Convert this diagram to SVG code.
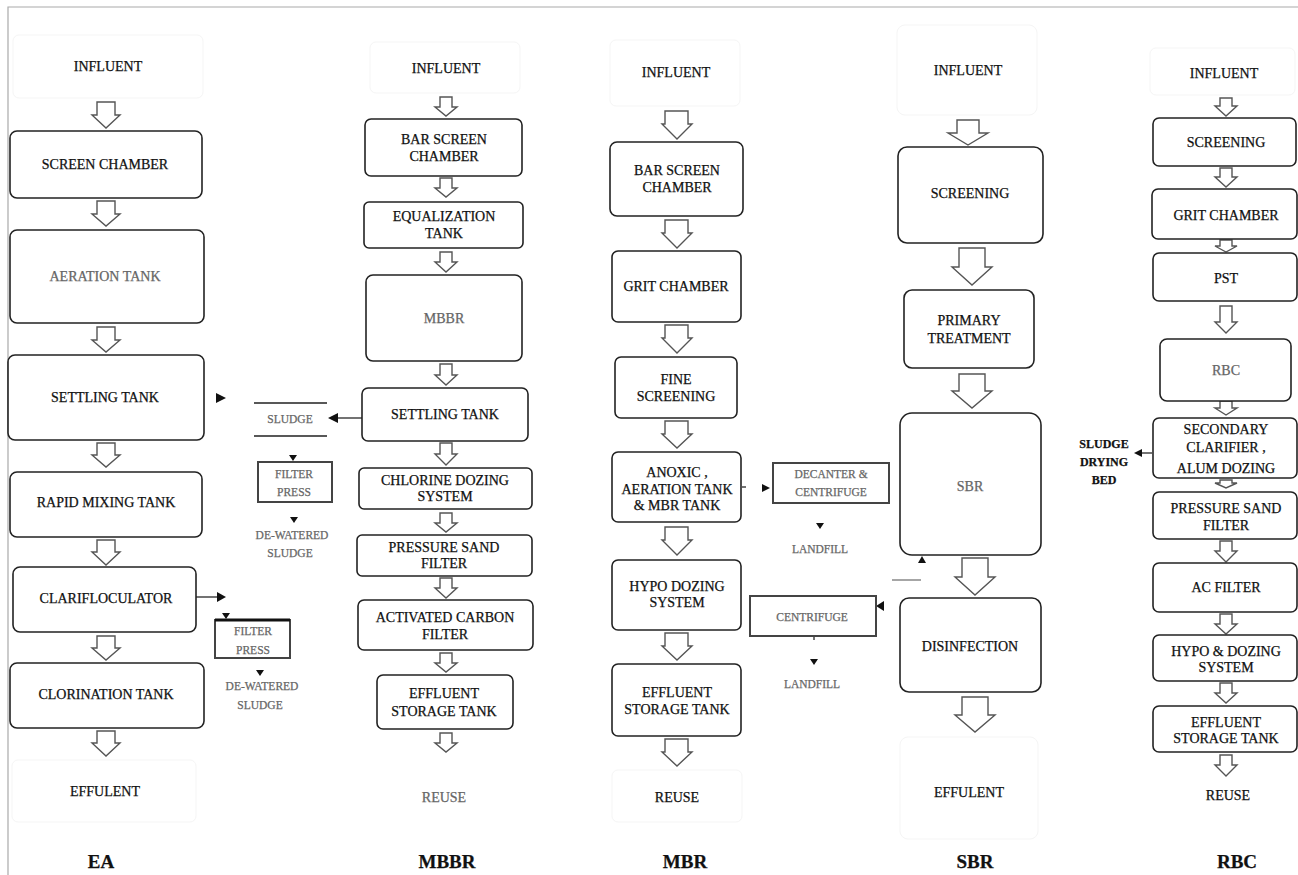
<svg xmlns="http://www.w3.org/2000/svg" width="1298" height="875" viewBox="0 0 1298 875">
<style>
text{font-family:"Liberation Serif","Times New Roman",serif;font-size:14px;fill:#111;stroke:#111;stroke-width:0.25;text-anchor:middle}
.g{fill:#666;stroke:#666}
.lb{font-weight:bold;font-size:19px}
.sb{font-weight:bold;font-size:12px}
.sm{font-size:11.5px}
.box{fill:#fff;stroke:#222;stroke-width:1.6}
.fbox{fill:none;stroke:#f5f5f5;stroke-width:1}
.sq{fill:#fff;stroke:#444;stroke-width:2}
.ar{fill:#fff;stroke:#555;stroke-width:1.4;stroke-linejoin:miter}
.ln{stroke:#444;stroke-width:1.5;fill:none}
.hd{fill:#111}
</style>
<rect width="1298" height="875" fill="#fff"/>
<path d="M8 875 V7 H1298" fill="none" stroke="#aaa" stroke-width="1.2"/>

<g id="connectors">
<path class="ar" d="M97 102H115V115H120L106 128L92 115H97Z"/>
<path class="ar" d="M97 201H115V214H120L106 226L92 214H97Z"/>
<path class="ar" d="M97 327H115V340H120L106 352L92 340H97Z"/>
<path class="ar" d="M97 443H115V455H120L106 467L92 455H97Z"/>
<path class="ar" d="M97 540H115V552H120L106 565L92 552H97Z"/>
<path class="ar" d="M97 636H115V648H120L106 660L92 648H97Z"/>
<path class="ar" d="M97 731H115V743H120L106 756L92 743H97Z"/>
<path class="ar" d="M440 97H452V107H457L446 116L435 107H440Z"/>
<path class="ar" d="M440 178H452V188H457L446 197L435 188H440Z"/>
<path class="ar" d="M440 252H452V262H457L446 272L435 262H440Z"/>
<path class="ar" d="M440 364H452V375H457L446 385L435 375H440Z"/>
<path class="ar" d="M440 443H452V454H457L446 465L435 454H440Z"/>
<path class="ar" d="M440 513H452V523H457L446 532L435 523H440Z"/>
<path class="ar" d="M440 578H452V588H457L446 598L435 588H440Z"/>
<path class="ar" d="M440 653H452V663H457L446 672L435 663H440Z"/>
<path class="ar" d="M440 733H452V743H457L446 752L435 743H440Z"/>
<path class="ar" d="M665 111H688V124H692L677 139L662 124H665Z"/>
<path class="ar" d="M665 220H688V233H692L677 248L662 233H665Z"/>
<path class="ar" d="M665 325H688V338H692L677 353L662 338H665Z"/>
<path class="ar" d="M665 421H688V434H692L677 448L662 434H665Z"/>
<path class="ar" d="M665 527H688V540H692L677 555L662 540H665Z"/>
<path class="ar" d="M665 633H688V646H692L677 660L662 646H665Z"/>
<path class="ar" d="M665 739H688V752H692L677 766L662 752H665Z"/>
<path class="ar" d="M957 120H979V133H988L968 145L948 133H957Z"/>
<path class="ar" d="M959 248H985V267H992L972 285L952 267H959Z"/>
<path class="ar" d="M959 374H985V391H992L972 408L952 391H959Z"/>
<path class="ar" d="M962 558H988V577H995L975 595L955 577H962Z"/>
<path class="ar" d="M962 697H988V715H995L975 732L955 715H962Z"/>
<path class="ar" d="M1220 98H1232V106H1237L1226 116L1215 106H1220Z"/>
<path class="ar" d="M1220 168H1232V177H1237L1226 187L1215 177H1220Z"/>
<path class="ar" d="M1220 240H1232V246H1237L1226 252L1215 246H1220Z"/>
<path class="ar" d="M1220 306H1232V322H1237L1226 333L1215 322H1220Z"/>
<path class="ar" d="M1220 401H1232V408H1237L1226 415L1215 408H1220Z"/>
<path class="ar" d="M1220 480H1232V483H1237L1226 488L1215 483H1220Z"/>
<path class="ar" d="M1220 541H1232V551H1237L1226 562L1215 551H1220Z"/>
<path class="ar" d="M1220 614H1232V624H1237L1226 634L1215 624H1220Z"/>
<path class="ar" d="M1220 683H1232V693H1237L1226 703L1215 693H1220Z"/>
<path class="ar" d="M1220 755H1232V765H1237L1226 776L1215 765H1220Z"/>

<path class="hd" d="M216 393L226 398L216 403Z"/>
<path class="ln" d="M362 418H336"/>
<path class="hd" d="M328 418L338 413L338 423Z"/>
<path class="hd" d="M289 455L297 455L293 461Z"/>
<path class="hd" d="M290 517L298 517L294 523Z"/>
<path class="ln" d="M196 597H218"/>
<path class="hd" d="M217 592L226 597L217 602Z"/>
<path class="hd" d="M222 613L230 613L226 619Z"/>
<path class="hd" d="M256 670L264 670L260 676Z"/>
<path class="ln" d="M742 487H746"/>
<path class="hd" d="M762 484L770 488L762 492Z"/>
<path class="hd" d="M816 523L824 523L820 529Z"/>
<path class="hd" d="M918 563L926 563L922 556Z"/>
<path d="M892 580H921" stroke="#888" stroke-width="1.5"/>
<path class="hd" d="M884 601L876 606L884 611Z"/>
<path class="ln" d="M814 636V640"/>
<path class="hd" d="M810 659L818 659L814 665Z"/>
<path class="ln" d="M1152 453H1140"/>
<path class="hd" d="M1134 453L1142 449L1142 457Z"/>
</g>

<g id="ea-influent"><rect class="fbox" x="13" y="35" width="190" height="63" rx="6"/><text x="108" y="71">INFLUENT</text></g>
<g id="ea-screen"><rect class="box" x="10" y="131" width="192" height="67" rx="7"/><text x="105" y="169">SCREEN CHAMBER</text></g>
<g id="ea-aeration"><rect class="box" x="10" y="230" width="194" height="93" rx="7"/><text class="g" x="105" y="281">AERATION TANK</text></g>
<g id="ea-settling"><rect class="box" x="8" y="355" width="196" height="85" rx="7"/><text x="105" y="402">SETTLING TANK</text></g>
<g id="ea-rapid"><rect class="box" x="10" y="472" width="192" height="65" rx="7"/><text x="106" y="507">RAPID MIXING TANK</text></g>
<g id="ea-clari"><rect class="box" x="13" y="567" width="183" height="65" rx="7"/><text x="106" y="603">CLARIFLOCULATOR</text></g>
<g id="ea-chlor"><rect class="box" x="10" y="663" width="194" height="65" rx="7"/><text x="106" y="699">CLORINATION TANK</text></g>
<g id="ea-effluent"><rect class="fbox" x="12" y="760" width="184" height="62" rx="6"/><text x="105" y="796">EFFULENT</text></g>
<g id="ea-label"><text class="lb" x="101" y="868">EA</text></g>
<g id="ea-sludge"><path d="M254 403H327M254 436H327" stroke="#222" stroke-width="1.6"/><text class="g sm" x="290" y="423">SLUDGE</text></g>
<g id="ea-fp1"><rect class="sq" x="258" y="462" width="74" height="40"/><text class="g sm" x="294" y="478">FILTER</text><text class="g sm" x="294" y="496">PRESS</text></g>
<g id="ea-dw1"><text class="g sm" x="292" y="539">DE-WATERED</text><text class="g sm" x="290" y="557">SLUDGE</text></g>
<g id="ea-fp2"><rect class="sq" x="215" y="620" width="75" height="38"/><path d="M215 620H290" stroke="#111" stroke-width="3"/><text class="g sm" x="253" y="635">FILTER</text><text class="g sm" x="253" y="654">PRESS</text></g>
<g id="ea-dw2"><text class="g sm" x="262" y="690">DE-WATERED</text><text class="g sm" x="260" y="709">SLUDGE</text></g>

<g id="mbbr-influent"><rect class="fbox" x="370" y="42" width="150" height="51" rx="6"/><text x="446" y="73">INFLUENT</text></g>
<g id="mbbr-bar"><rect class="box" x="365" y="119" width="157" height="57" rx="6"/><text x="444" y="144">BAR SCREEN</text><text x="444" y="161">CHAMBER</text></g>
<g id="mbbr-eq"><rect class="box" x="364" y="202" width="159" height="46" rx="5"/><text x="444" y="221">EQUALIZATION</text><text x="444" y="238">TANK</text></g>
<g id="mbbr-mbbr"><rect class="box" x="366" y="275" width="156" height="86" rx="7"/><text class="g" x="444" y="323">MBBR</text></g>
<g id="mbbr-settling"><rect class="box" x="362" y="388" width="166" height="53" rx="6"/><text x="445" y="419">SETTLING TANK</text></g>
<g id="mbbr-chlor"><rect class="box" x="359" y="468" width="173" height="41" rx="5"/><text x="445" y="485">CHLORINE DOZING</text><text x="445" y="501">SYSTEM</text></g>
<g id="mbbr-psf"><rect class="box" x="357" y="535" width="175" height="41" rx="5"/><text x="444" y="552">PRESSURE SAND</text><text x="444" y="568">FILTER</text></g>
<g id="mbbr-acf"><rect class="box" x="358" y="600" width="175" height="50" rx="6"/><text x="445" y="622">ACTIVATED CARBON</text><text x="445" y="639">FILTER</text></g>
<g id="mbbr-est"><rect class="box" x="377" y="675" width="136" height="54" rx="6"/><text x="444" y="698">EFFLUENT</text><text x="444" y="716">STORAGE TANK</text></g>
<g id="mbbr-reuse"><text class="g" x="444" y="802">REUSE</text></g>
<g id="mbbr-label"><text class="lb" x="447" y="868">MBBR</text></g>

<g id="mbr-influent"><rect class="fbox" x="610" y="40" width="130" height="66" rx="6"/><text x="676" y="77">INFLUENT</text></g>
<g id="mbr-bar"><rect class="box" x="610" y="142" width="133" height="74" rx="7"/><text x="677" y="175">BAR SCREEN</text><text x="677" y="192">CHAMBER</text></g>
<g id="mbr-grit"><rect class="box" x="612" y="251" width="129" height="71" rx="6"/><text x="676" y="291">GRIT CHAMBER</text></g>
<g id="mbr-fine"><rect class="box" x="615" y="357" width="122" height="61" rx="6"/><text x="676" y="384">FINE</text><text x="676" y="401">SCREENING</text></g>
<g id="mbr-anoxic"><rect class="box" x="612" y="452" width="129" height="70" rx="6"/><text x="677" y="477">ANOXIC ,</text><text x="677" y="494">AERATION TANK</text><text x="677" y="510">&amp; MBR TANK</text></g>
<g id="mbr-hypo"><rect class="box" x="612" y="560" width="129" height="70" rx="6"/><text x="677" y="591">HYPO DOZING</text><text x="677" y="607">SYSTEM</text></g>
<g id="mbr-est"><rect class="box" x="612" y="664" width="129" height="72" rx="6"/><text x="677" y="697">EFFLUENT</text><text x="677" y="714">STORAGE TANK</text></g>
<g id="mbr-reuse"><rect class="fbox" x="612" y="770" width="130" height="52" rx="6"/><text x="677" y="802">REUSE</text></g>
<g id="mbr-label"><text class="lb" x="685" y="868">MBR</text></g>
<g id="mbr-decanter"><rect class="sq" x="773" y="463" width="116" height="40"/><text class="g sm" x="831" y="478">DECANTER &amp;</text><text class="g sm" x="831" y="496">CENTRIFUGE</text></g>
<g id="mbr-landfill1"><text class="g sm" x="820" y="553">LANDFILL</text></g>
<g id="mbr-centrifuge"><rect class="sq" x="750" y="596" width="126" height="40"/><text class="g sm" x="812" y="621">CENTRIFUGE</text></g>
<g id="mbr-landfill2"><text class="g sm" x="812" y="688">LANDFILL</text></g>

<g id="sbr-influent"><rect class="fbox" x="897" y="25" width="140" height="90" rx="8"/><text x="968" y="75">INFLUENT</text></g>
<g id="sbr-screen"><rect class="box" x="898" y="147" width="145" height="96" rx="9"/><text x="970" y="198">SCREENING</text></g>
<g id="sbr-primary"><rect class="box" x="904" y="290" width="130" height="78" rx="8"/><text x="969" y="325">PRIMARY</text><text x="969" y="343">TREATMENT</text></g>
<g id="sbr-sbr"><rect class="box" x="900" y="413" width="141" height="142" rx="12"/><text class="g" x="970" y="491">SBR</text></g>
<g id="sbr-dis"><rect class="box" x="900" y="598" width="141" height="94" rx="9"/><text x="970" y="651">DISINFECTION</text></g>
<g id="sbr-effluent"><rect class="fbox" x="900" y="737" width="138" height="102" rx="8"/><text x="969" y="797">EFFULENT</text></g>
<g id="sbr-label"><text class="lb" x="975" y="868">SBR</text></g>

<g id="rbc-influent"><rect class="fbox" x="1150" y="48" width="145" height="47" rx="6"/><text x="1224" y="78">INFLUENT</text></g>
<g id="rbc-screen"><rect class="box" x="1153" y="118" width="143" height="48" rx="6"/><text x="1226" y="147">SCREENING</text></g>
<g id="rbc-grit"><rect class="box" x="1152" y="189" width="145" height="50" rx="6"/><text x="1226" y="220">GRIT CHAMBER</text></g>
<g id="rbc-pst"><rect class="box" x="1153" y="253" width="144" height="48" rx="6"/><text x="1226" y="283">PST</text></g>
<g id="rbc-rbc"><rect class="box" x="1160" y="339" width="131" height="62" rx="7"/><text class="g" x="1226" y="375">RBC</text></g>
<g id="rbc-sec"><rect class="box" x="1153" y="418" width="144" height="60" rx="6"/><text x="1226" y="434">SECONDARY</text><text x="1226" y="452">CLARIFIER ,</text><text x="1226" y="473" font-size="12.5">ALUM DOZING</text></g>
<g id="rbc-psf"><rect class="box" x="1153" y="492" width="144" height="47" rx="6"/><text x="1226" y="513">PRESSURE SAND</text><text x="1226" y="530">FILTER</text></g>
<g id="rbc-ac"><rect class="box" x="1153" y="563" width="144" height="49" rx="6"/><text x="1226" y="592">AC FILTER</text></g>
<g id="rbc-hypo"><rect class="box" x="1153" y="635" width="144" height="46" rx="6"/><text x="1226" y="656">HYPO &amp; DOZING</text><text x="1226" y="672">SYSTEM</text></g>
<g id="rbc-est"><rect class="box" x="1153" y="706" width="144" height="46" rx="6"/><text x="1226" y="727">EFFLUENT</text><text x="1226" y="743">STORAGE TANK</text></g>
<g id="rbc-reuse"><text x="1228" y="800">REUSE</text></g>
<g id="rbc-label"><text class="lb" x="1237" y="868">RBC</text></g>
<g id="rbc-sdb"><text class="sb" x="1104" y="448">SLUDGE</text><text class="sb" x="1104" y="466">DRYING</text><text class="sb" x="1104" y="484">BED</text></g>
</svg>
